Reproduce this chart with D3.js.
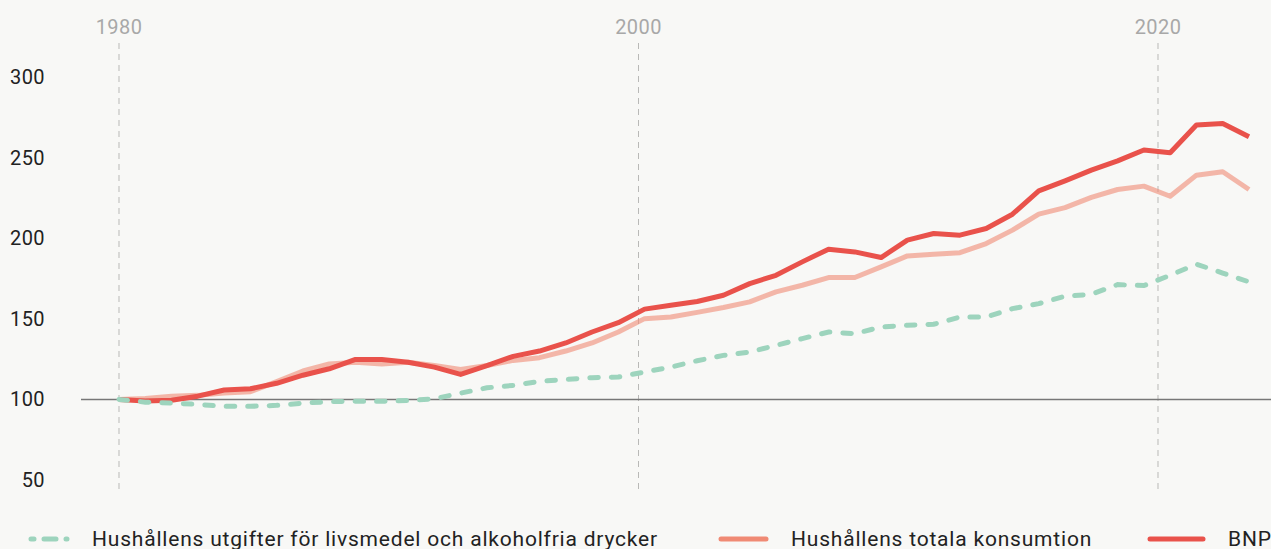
<!DOCTYPE html>
<html>
<head>
<meta charset="utf-8">
<script src="https://cdn.jsdelivr.net/npm/d3@7"></script>
<style>
  html, body { margin: 0; padding: 0; background: #f8f8f6; }
  svg { display: block; font-family: Roboto, "Noto Sans", sans-serif; }
</style>
</head>
<body>
<div id="chart"></div>
<script>
/* Index 1980 = 100: BNP, total consumption, food spending. */

var years = [1980, 1981, 1982, 1983, 1984, 1985, 1986, 1987, 1988, 1989,
  1990, 1991, 1992, 1993, 1994, 1995, 1996, 1997, 1998, 1999,
  2000, 2001, 2002, 2003, 2004, 2005, 2006, 2007, 2008, 2009,
  2010, 2011, 2012, 2013, 2014, 2015, 2016, 2017, 2018, 2019,
  2020, 2021, 2022, 2023];

var bnp = [100, 99, 99.5, 102, 105.8, 106.6, 110, 115, 119, 124.8,
  124.8, 123, 120, 115.5, 121, 126.7, 130, 135, 141.8, 147.6,
  156, 158.4, 160.7, 164.6, 171.8, 177, 185.3, 193.2, 191.5, 188,
  198.8, 202.9, 201.9, 206, 214.9, 229.4, 235.6, 242.2, 248, 254.7,
  253, 270.2, 271.2, 262.9];

var konsumtion = [100, 100.6, 102, 102.5, 103.9, 104.8, 111, 117.6, 122, 123,
  122, 123, 121, 118.6, 121, 124.2, 125.9, 130, 135, 141.8,
  150.1, 151.1, 154, 157, 160.5, 166.7, 170.8, 175.6, 175.6, 182.2,
  189, 190, 191, 196.7, 205, 214.9, 219, 225.3, 230.2, 232.3,
  226, 239.1, 241.2, 230.2];

var livsmedel = [100, 98.3, 97.7, 96.9, 95.7, 95.7, 96.3, 97.7, 98.6, 98.8,
  98.8, 99.3, 100.4, 103.9, 107.2, 108.7, 111.2, 112.4, 113.5, 113.9,
  117, 120, 124, 127.3, 129.4, 133.5, 137.7, 141.8, 140.8, 144.9,
  146, 146.6, 151.1, 151.1, 156.3, 159.4, 164, 165.2, 171.2, 170.6,
  177, 183.9, 178.4, 172.9];

var yTicks = [50, 100, 150, 200, 250, 300];
var yearTicks = [1980, 2000, 2020];

var legendLabels = ["Hushållens utgifter för livsmedel och alkoholfria drycker",
  "Hushållens totala konsumtion", "BNP"];

var W = 1271, H = 549;
var bg = "#f8f8f6";
var red = "#e9524b", pink = "#f08a74", green = "#9dd4bd";

var svg = d3.select("#chart").append("svg")
  .attr("width", W).attr("height", H);

svg.append("rect").attr("width", W).attr("height", H).attr("fill", bg);

var y = d3.scaleLinear().domain([50, 300]).range([480, 77]);
// grid years and data points sit on slightly different scales in the original
var xGrid = d3.scaleLinear().domain([1980, 2020]).range([119, 1158]);
var x = d3.scaleLinear().domain([1980, 2023]).range([119, 1249]);

// year grid lines + labels on top
var grid = svg.append("g");
grid.selectAll("line").data(yearTicks).join("line")
  .attr("x1", d => xGrid(d)).attr("x2", d => xGrid(d))
  .attr("y1", 43).attr("y2", 490)
  .attr("stroke", "#b9b9b7").attr("stroke-width", 1)
  .attr("stroke-dasharray", "6,5");
grid.selectAll("text").data(yearTicks).join("text")
  .attr("x", d => xGrid(d)).attr("y", 34)
  .attr("text-anchor", "middle")
  .attr("fill", "#a8a8a8").attr("font-size", 20)
  .attr("letter-spacing", 0.4)
  .text(d => d);

// y tick labels
svg.append("g").selectAll("text").data(yTicks).join("text")
  .attr("x", 45).attr("y", d => y(d) + 7)
  .attr("text-anchor", "end")
  .attr("fill", "#222").attr("font-size", 20)
  .attr("letter-spacing", 0.4)
  .text(d => d);

// base line at 100
svg.append("line")
  .attr("x1", 81).attr("x2", W)
  .attr("y1", y(100)).attr("y2", y(100))
  .attr("stroke", "#777").attr("stroke-width", 1.5);

var line = d3.line()
  .x((d, i) => x(years[i]))
  .y(d => y(d));

svg.append("path").datum(konsumtion)
  .attr("fill", "none").attr("stroke", pink).attr("stroke-opacity", 0.6)
  .attr("stroke-width", 5).attr("stroke-linejoin", "round")
  .attr("d", line);

svg.append("path").datum(bnp)
  .attr("fill", "none").attr("stroke", red)
  .attr("stroke-width", 5).attr("stroke-linejoin", "round")
  .attr("d", line);

svg.append("path").datum(livsmedel)
  .attr("fill", "none").attr("stroke", green)
  .attr("stroke-width", 5).attr("stroke-linecap", "round")
  .attr("stroke-dasharray", "8.5,13")
  .attr("d", line);

// legend
var leg = [
  { label: legendLabels[0], color: green, dash: true, x0: 31, x1: 67, tx: 92 },
  { label: legendLabels[1], color: pink, dash: false, x0: 721, x1: 766, tx: 791 },
  { label: legendLabels[2], color: red, dash: false, x0: 1150, x1: 1203, tx: 1228 }
];
var lg = svg.append("g");
leg.forEach(function (d) {
  lg.append("line")
    .attr("x1", d.x0).attr("x2", d.x1).attr("y1", 539).attr("y2", 539)
    .attr("stroke", d.color).attr("stroke-width", 5)
    .attr("stroke-linecap", "round")
    .attr("stroke-dasharray", d.dash ? "3,10,12,10" : null);
  lg.append("text")
    .attr("x", d.tx).attr("y", 546)
    .attr("fill", "#222").attr("font-size", 21)
    .attr("letter-spacing", 0.8)
    .text(d.label);
});
</script>
</body>
</html>
